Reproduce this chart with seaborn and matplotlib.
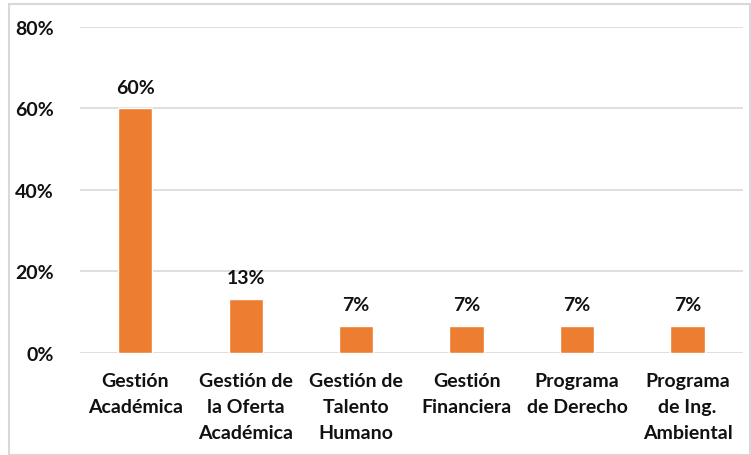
import matplotlib
matplotlib.use("Agg")
import matplotlib.pyplot as plt
import seaborn as sns
import pandas as pd
from matplotlib.patches import Rectangle
from matplotlib.ticker import PercentFormatter

categories = [
    "Gestión\nAcadémica",
    "Gestión de\nla Oferta\nAcadémica",
    "Gestión de\nTalento\nHumano",
    "Gestión\nFinanciera",
    "Programa\nde Derecho",
    "Programa\nde Ing.\nAmbiental",
]
shares = [0.60, 0.133, 0.067, 0.067, 0.067, 0.067]
value_labels = ["60%", "13%", "7%", "7%", "7%", "7%"]
y_ticks = [0.0, 0.2, 0.4, 0.6, 0.8]

sns.set_style("white")
plt.rcParams["font.family"] = ["Lato", "DejaVu Sans"]

df = pd.DataFrame({"category": categories, "share": shares})

fig = plt.figure(figsize=(7.51, 4.56), dpi=100)
ax = fig.add_axes([0.1065, 0.2237, 0.8825, 0.7149])

sns.barplot(data=df, x="category", y="share", color="#ED7D31",
            saturation=1, width=0.31, ax=ax)

ax.set_ylim(0, 0.8)
ax.set_yticks(y_ticks)
ax.yaxis.set_major_formatter(PercentFormatter(1.0, decimals=0))
ax.grid(axis="y", color="#D9D9D9", linewidth=1.2)
ax.set_axisbelow(True)
for side in ["top", "right", "left", "bottom"]:
    ax.spines[side].set_visible(False)
ax.set_xlabel("")
ax.set_ylabel("")

ax.tick_params(axis="y", length=0, pad=19, labelsize=14, labelcolor="#111111")
ax.tick_params(axis="x", length=0, pad=14, labelsize=14, labelcolor="#111111")
for lbl in ax.get_yticklabels() + ax.get_xticklabels():
    lbl.set_fontweight("bold")
for lbl in ax.get_xticklabels():
    lbl.set_linespacing(1.62)

for bar, txt in zip(ax.patches, value_labels):
    ax.annotate(txt, (bar.get_x() + bar.get_width() / 2, bar.get_height()),
                xytext=(0, 9), textcoords="offset points",
                ha="center", va="bottom", fontsize=14,
                fontweight="bold", color="#111111")

fig.patches.append(Rectangle((9 / 751, 0), 741 / 751, 451 / 456,
                             transform=fig.transFigure, fill=False,
                             edgecolor="#D9D9D9", linewidth=1.5))

fig.savefig("out.png", dpi=100)
plt.close(fig)
